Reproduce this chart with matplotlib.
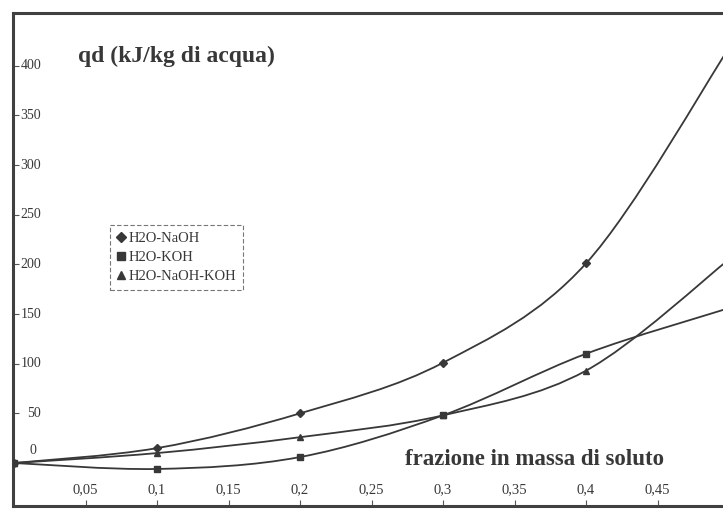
import numpy as np
import matplotlib
matplotlib.use("Agg")
import matplotlib.pyplot as plt
from matplotlib.path import Path
from matplotlib.patches import PathPatch
from matplotlib.lines import Line2D

# ---- data ----
x_vals = [0.0, 0.1, 0.2, 0.3, 0.4, 0.5]
naoh = [0, 15, 50, 101, 201, 418]
koh = [0, -6, 6, 48, 110, 156]
naoh_koh = [0, 10, 26, 48, 93, 205]
series_names = ["H2O-NaOH", "H2O-KOH", "H2O-NaOH-KOH"]
markers = ["D", "s", "^"]
xtick_vals = [0.05, 0.1, 0.15, 0.2, 0.25, 0.3, 0.35, 0.4, 0.45]
xtick_labels = ["0,05", "0,1", "0,15", "0,2", "0,25", "0,3", "0,35", "0,4", "0,45"]
ytick_vals = [0, 50, 100, 150, 200, 250, 300, 350, 400]
ytick_labels = ["0", "50", "100", "150", "200", "250", "300", "350", "400"]

INK = "#383838"
plt.rcParams["font.family"] = ["Liberation Serif", "DejaVu Serif"]

W, H = 723, 509
fig = plt.figure(figsize=(W / 100, H / 100), dpi=100)
ax = fig.add_axes([13 / W, 3 / H, (W - 13) / W, 493 / H])
ax.set_xlim(-0.0007, 0.4958)
ax.set_ylim(-43.3, 453.2)


def smooth_path(xs, ys):
    pts = np.column_stack([xs, ys]).astype(float)
    n = len(pts)
    verts = [pts[0]]
    codes = [Path.MOVETO]
    for i in range(n - 1):
        p0 = pts[i - 1] if i > 0 else pts[i]
        p1 = pts[i]
        p2 = pts[i + 1]
        p3 = pts[i + 2] if i + 2 < n else pts[i + 1]
        c1 = p1 + (p2 - p0) / 6.0
        c2 = p2 - (p3 - p1) / 6.0
        verts += [c1, c2, p2]
        codes += [Path.CURVE4] * 3
    return Path(verts, codes)


handles = []
for ys, mk, name in zip([naoh, koh, naoh_koh], markers, series_names):
    patch = PathPatch(smooth_path(x_vals, ys), facecolor="none", edgecolor=INK,
                      lw=1.3, zorder=3)
    ax.add_patch(patch)
    ms = 3.8 if mk == "D" else 4.5
    ax.plot(x_vals, ys, linestyle="none", marker=mk, ms=ms, color=INK, zorder=4,
            clip_on=True)
    handles.append(Line2D([], [], linestyle="none", marker=mk, ms=ms + 1, color=INK))

# spines
for s in ["left", "top", "bottom"]:
    ax.spines[s].set_linewidth(2.2)
    ax.spines[s].set_color("#404040")
ax.spines["right"].set_visible(False)

ax.set_xticks(xtick_vals)
ax.set_yticks(ytick_vals)
ax.tick_params(axis="both", direction="in", length=4, width=0.8, color="#555555",
               labelbottom=False, labelleft=False)

for xv, lab in zip(xtick_vals, xtick_labels):
    ax.text(xv, -27, lab, ha="center", va="center", fontsize=10.5, color=INK)
for yv, lab in zip(ytick_vals, ytick_labels):
    yy = yv + (13 if yv == 0 else 0)
    xx = 0.0155 if yv == 0 else 0.019
    ax.text(xx, yy, lab, ha="right", va="center", fontsize=10, color=INK)

fig.text(78 / W, 1 - 62 / H, "qd (kJ/kg di acqua)", fontsize=17, fontweight="bold",
         color=INK, va="baseline", ha="left")
fig.text(405 / W, 1 - 465 / H, "frazione in massa di soluto", fontsize=16.5,
         fontweight="bold", color=INK, va="baseline", ha="left")

leg = ax.legend(handles, series_names, loc="upper left",
                bbox_to_anchor=((110 - 13) / 710, (506 - 225) / 493),
                borderaxespad=0, frameon=True, fancybox=False, fontsize=10.5,
                handlelength=0.6, handletextpad=0.25, borderpad=0.45,
                labelspacing=0.42)
fr = leg.get_frame()
fr.set_edgecolor("#555555")
fr.set_linestyle((0, (4, 2)))
fr.set_linewidth(0.8)
for t in leg.get_texts():
    t.set_color(INK)

fig.savefig("out.png", dpi=100)
